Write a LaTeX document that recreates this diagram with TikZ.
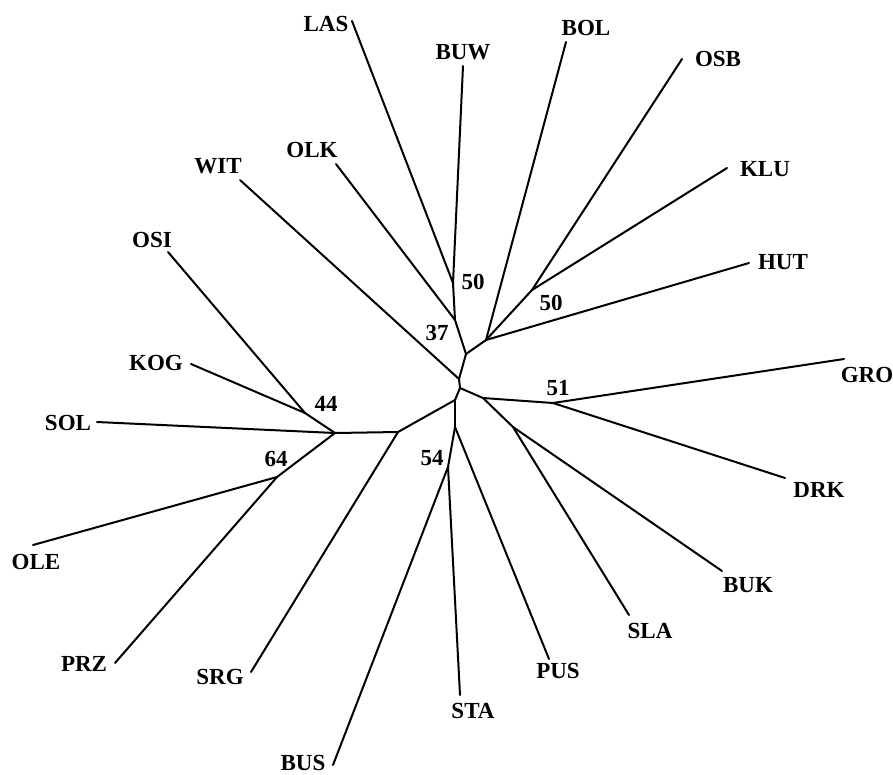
\documentclass[tikz,border=0pt]{standalone}
\usepackage{fontspec}
\setmainfont{Liberation Serif}
\begin{document}
\begin{tikzpicture}[x=1pt,y=-1pt,
  br/.style={line width=2pt, line cap=round, line join=round},
  lab/.style={font=\fontsize{23}{23}\selectfont\bfseries, inner sep=0pt, anchor=center}]
\useasboundingbox (0,0) rectangle (893,774);
% leaf ends
\coordinate (LASe) at (352,21);
\coordinate (BUWe) at (463,66);
\coordinate (OLKe) at (336,164);
\coordinate (BOLe) at (566,42);
\coordinate (OSBe) at (682,59);
\coordinate (KLUe) at (727,168);
\coordinate (HUTe) at (749,263);
\coordinate (WITe) at (240,180);
\coordinate (GROe) at (844,359);
\coordinate (DRKe) at (785,478);
\coordinate (BUKe) at (722,571);
\coordinate (SLAe) at (629,615);
\coordinate (PUSe) at (549,659);
\coordinate (STAe) at (460,695);
\coordinate (BUSe) at (333,765);
\coordinate (SRGe) at (251,672);
\coordinate (PRZe) at (115,663);
\coordinate (OLEe) at (33,545);
\coordinate (SOLe) at (97,422);
\coordinate (KOGe) at (191,364);
\coordinate (OSIe) at (168,252);
% internal nodes
\coordinate (nLB) at (453,283);
\coordinate (nLBO) at (455,320);
\coordinate (nTop) at (466,354);
\coordinate (nR) at (486,340);
\coordinate (nOK) at (532,290);
\coordinate (nC) at (459,379);
\coordinate (nC2) at (460,388);
\coordinate (nE) at (483,398);
\coordinate (nGD) at (553,403);
\coordinate (nBS) at (513,427);
\coordinate (nS) at (455,400);
\coordinate (nSD) at (455,427);
\coordinate (nBT) at (448,467);
\coordinate (nW1) at (398,432);
\coordinate (nW2) at (335,433);
\coordinate (n44) at (305,413);
\coordinate (n64) at (277,477);
% branches
\draw[br] (LASe) -- (nLB);
\draw[br] (BUWe) -- (nLB);
\draw[br] (nLB) -- (nLBO);
\draw[br] (OLKe) -- (nLBO);
\draw[br] (nLBO) -- (nTop);
\draw[br] (nTop) -- (nR);
\draw[br] (BOLe) -- (nR);
\draw[br] (HUTe) -- (nR);
\draw[br] (nR) -- (nOK);
\draw[br] (OSBe) -- (nOK);
\draw[br] (KLUe) -- (nOK);
\draw[br] (nTop) -- (nC);
\draw[br] (WITe) -- (nC);
\draw[br] (nC) -- (nC2);
\draw[br] (nC2) -- (nE);
\draw[br] (nE) -- (nGD);
\draw[br] (GROe) -- (nGD);
\draw[br] (DRKe) -- (nGD);
\draw[br] (nE) -- (nBS);
\draw[br] (BUKe) -- (nBS);
\draw[br] (SLAe) -- (nBS);
\draw[br] (nC2) -- (nS);
\draw[br] (nS) -- (nSD);
\draw[br] (nSD) -- (PUSe);
\draw[br] (nSD) -- (nBT);
\draw[br] (nBT) -- (BUSe);
\draw[br] (nBT) -- (STAe);
\draw[br] (nS) -- (nW1);
\draw[br] (nW1) -- (SRGe);
\draw[br] (nW1) -- (nW2);
\draw[br] (nW2) -- (SOLe);
\draw[br] (nW2) -- (n44);
\draw[br] (n44) -- (KOGe);
\draw[br] (n44) -- (OSIe);
\draw[br] (nW2) -- (n64);
\draw[br] (n64) -- (OLEe);
\draw[br] (n64) -- (PRZe);
% leaf labels
\node[lab] (LAS) at (326,24) {LAS};
\node[lab] (BUW) at (463,52) {BUW};
\node[lab] (BOL) at (586,28) {BOL};
\node[lab] (OSB) at (718,59) {OSB};
\node[lab] (KLU) at (765,169) {KLU};
\node[lab] (HUT) at (783,262) {HUT};
\node[lab] (GRO) at (867,375) {GRO};
\node[lab] (DRK) at (819,490) {DRK};
\node[lab] (BUK) at (748,585) {BUK};
\node[lab] (SLA) at (650,631) {SLA};
\node[lab] (PUS) at (558,671) {PUS};
\node[lab] (STA) at (473,711) {STA};
\node[lab] (BUS) at (303,763) {BUS};
\node[lab] (SRG) at (220,677) {SRG};
\node[lab] (PRZ) at (84,664) {PRZ};
\node[lab] (OLE) at (36,562) {OLE};
\node[lab] (SOL) at (68,423) {SOL};
\node[lab] (KOG) at (156,363) {KOG};
\node[lab] (OSI) at (152,240) {OSI};
\node[lab] (WIT) at (218,166) {WIT};
\node[lab] (OLK) at (312,150) {OLK};
% support values
\node[lab] (b37) at (437,333) {37};
\node[lab] (b50a) at (473,282) {50};
\node[lab] (b50b) at (551,303) {50};
\node[lab] (b51) at (558,388) {51};
\node[lab] (b54) at (432,458) {54};
\node[lab] (b44) at (326,404) {44};
\node[lab] (b64) at (276,459) {64};
\end{tikzpicture}
\end{document}
